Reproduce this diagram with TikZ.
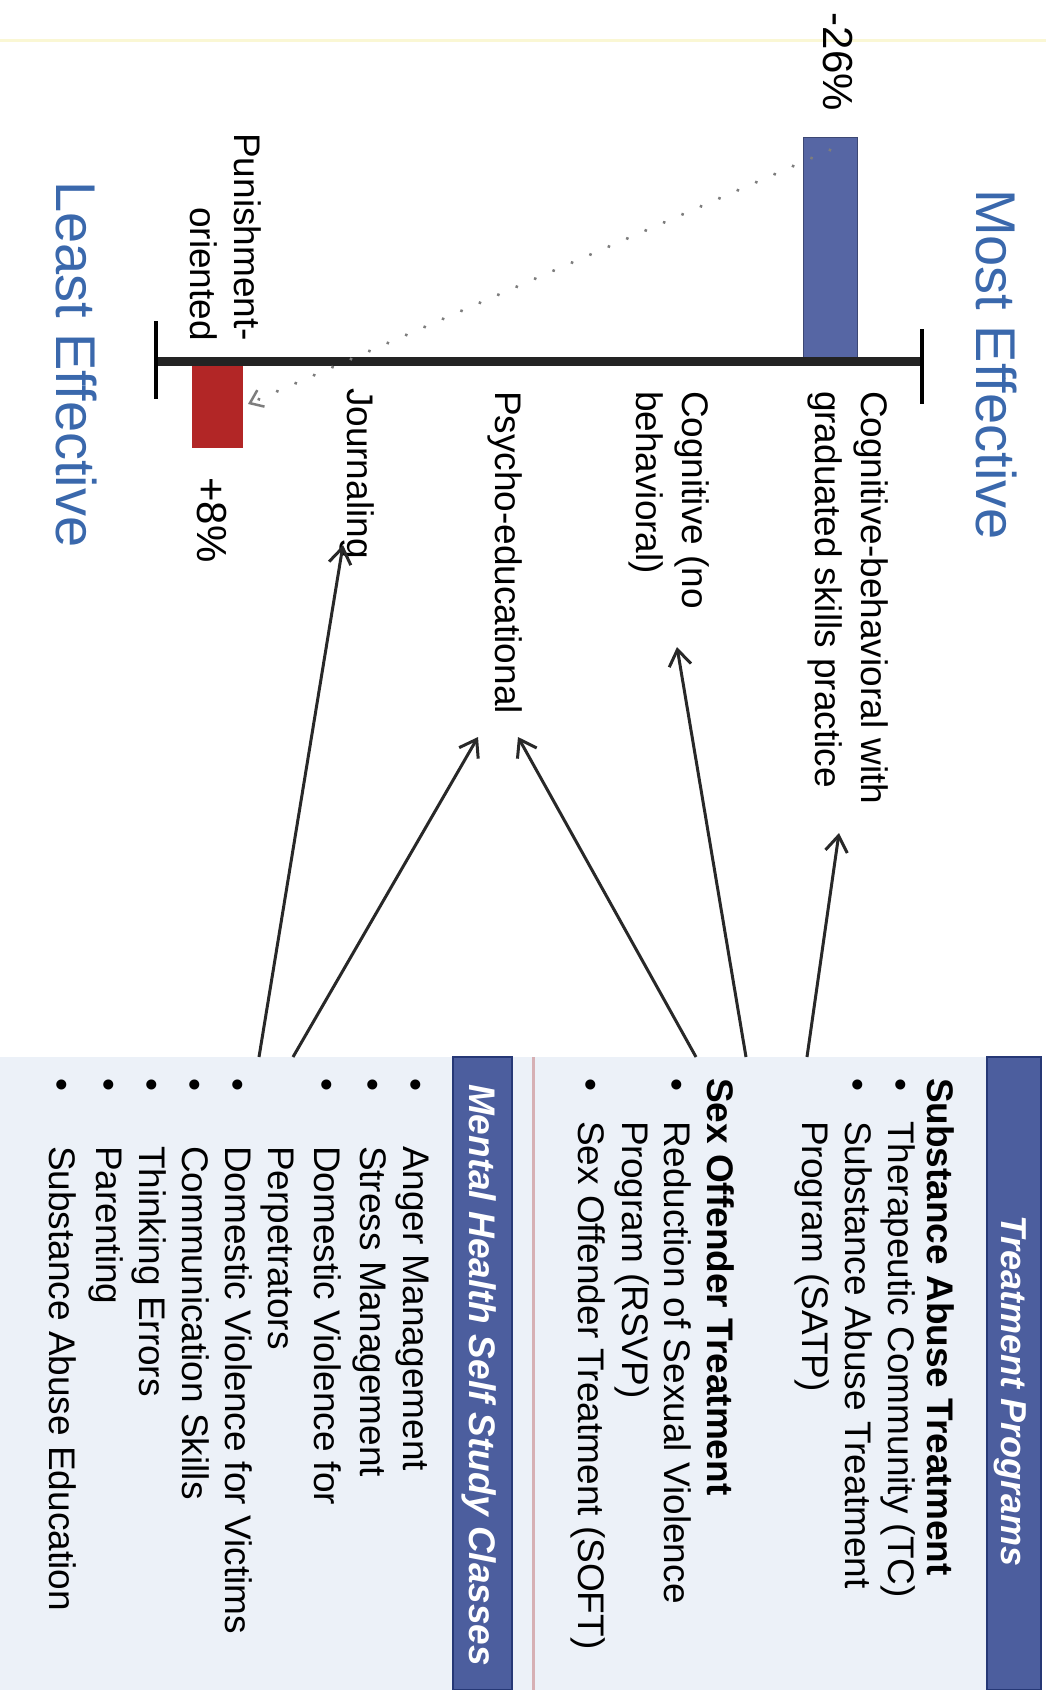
\documentclass[tikz,border=0pt]{standalone}
\usepackage{fontspec}
\setmainfont{Liberation Sans}
\usetikzlibrary{arrows.meta}
\definecolor{barblue}{RGB}{86,102,164}
\definecolor{barred}{RGB}{178,38,38}
\definecolor{titleblue}{RGB}{58,104,172}
\definecolor{bandblue}{RGB}{76,94,158}
\definecolor{bandedge}{RGB}{38,56,118}
\definecolor{boxbg}{RGB}{236,241,248}
\definecolor{pinkline}{RGB}{214,176,180}
\definecolor{arrowgray}{RGB}{40,40,40}
\definecolor{dotgray}{RGB}{125,125,125}
\definecolor{paleyellow}{RGB}{250,247,212}
\definecolor{axisgray}{RGB}{35,35,35}
\begin{document}
\begin{tikzpicture}[x=1pt,y=-1pt,
  rot/.style={rotate=-90, inner sep=0pt, outer sep=0pt},
  lbl/.style={rot, font=\fontsize{37}{46}\selectfont},
  item/.style={rot, font=\fontsize{37}{44}\selectfont, anchor=base west},
  head/.style={rot, font=\fontsize{37}{44}\selectfont\bfseries, anchor=base west},
  bandtext/.style={rot, font=\fontsize{36}{40}\selectfont\bfseries\itshape, text=white},
  bigtitle/.style={rot, font=\fontsize{56}{60}\selectfont, text=titleblue, anchor=base west},
  pct/.style={rot, font=\fontsize{42}{48}\selectfont, anchor=base},
  conn/.style={draw=arrowgray, line width=3pt, -{Straight Barb[length=16pt,width=22pt]}},
  dotconn/.style={draw=dotgray, line width=3.5pt, line cap=round, dash pattern=on 0.1pt off 20pt, -{Straight Barb[length=12pt,width=18pt,line width=2.5pt]}}
]
\useasboundingbox (0,0) rectangle (1046,1690);
\fill[white] (0,0) rectangle (1046,1690);
\draw[paleyellow, line width=3pt] (0,40) -- (1046,40);

% titles
\node[bigtitle] (most) at (976,189) {Most Effective};
\node[bigtitle] (least) at (56,181) {Least Effective};

% bars and axis
\fill[barblue, draw=barblue!70!black, line width=1pt] (803,137) rectangle (857,358);
\fill[barred] (192,366) rectangle (243,448);
\draw[axisgray, line width=9pt] (156,361) -- (922,361);
\draw[black, line width=4pt] (156,321) -- (156,399);
\draw[black, line width=4pt] (922,329) -- (922,404);

\node[pct] (p26) at (823,62) {-26\%};
\node[pct] (p8) at (197,520) {+8\%};

% axis labels
\node[lbl, align=left, anchor=north west] (cb) at (888,391) {Cognitive-behavioral with\\graduated skills practice};
\node[lbl, align=left, anchor=north west] (cog) at (709,391) {Cognitive (no\\behavioral)};
\node[lbl, anchor=north west] (psy) at (522,391) {Psycho-educational};
\node[lbl, anchor=north west] (jour) at (374,388) {Journaling};
\node[lbl, align=right, anchor=north east, font=\fontsize{37}{44}\selectfont] (pun) at (261,341) {Punishment-\\oriented};

% dotted trend arrow
\coordinate (dotS) at (830,150);
\coordinate (dotE) at (248,404);
\draw[dotconn] (dotS) -- (dotE);

% boxes
\fill[boxbg] (0,1057) rectangle (987,1690);
\draw[pinkline, line width=3pt] (533,1057) -- (533,1690);
\fill[bandblue, draw=bandedge, line width=2pt] (987,1057) rectangle (1041,1690);
\fill[bandblue, draw=bandedge, line width=2pt] (453,1057) rectangle (512,1690);

\node[bandtext, anchor=base] (tp) at (1001,1391) {Treatment Programs};
\node[bandtext, anchor=base west, font=\fontsize{37}{40}\selectfont\bfseries\itshape] (mh) at (469,1084) {Mental Health Self Study Classes};

% treatment programs content
\node[head] (h1) at (927,1078) {Substance Abuse Treatment};
\node[item] (b1) at (888,1078) {•};
\node[item] (t1) at (888,1121) {Therapeutic Community (TC)};
\node[item] (b2) at (845,1078) {•};
\node[item] (t2) at (845,1121) {Substance Abuse Treatment};
\node[item] (t2b) at (802,1121) {Program (SATP)};
\node[head] (h2) at (707,1078) {Sex Offender Treatment};
\node[item] (b3) at (664,1078) {•};
\node[item] (t3) at (664,1121) {Reduction of Sexual Violence};
\node[item] (t3b) at (622,1121) {Program (RSVP)};
\node[item] (b4) at (578,1078) {•};
\node[item] (t4) at (578,1121) {Sex Offender Treatment (SOFT)};

% mental health content
\node[item] (mb1) at (403,1078) {•};
\node[item] (m1) at (403,1146) {Anger Management};
\node[item] (mb2) at (360,1078) {•};
\node[item] (m2) at (360,1146) {Stress Management};
\node[item] (mb3) at (314,1078) {•};
\node[item] (m3) at (314,1146) {Domestic Violence for};
\node[item] (m3b) at (268,1146) {Perpetrators};
\node[item] (mb4) at (225,1078) {•};
\node[item] (m4) at (225,1146) {Domestic Violence for Victims};
\node[item] (mb5) at (182,1078) {•};
\node[item] (m5) at (182,1146) {Communication Skills};
\node[item] (mb6) at (139,1078) {•};
\node[item] (m6) at (139,1146) {Thinking Errors};
\node[item] (mb7) at (96,1078) {•};
\node[item] (m7) at (96,1146) {Parenting};
\node[item] (mb8) at (49,1078) {•};
\node[item] (m8) at (49,1146) {Substance Abuse Education};

% connectors
\coordinate (s1) at (807,1057);
\coordinate (s2) at (746,1057);
\coordinate (s3) at (696,1057);
\coordinate (s4) at (293,1057);
\coordinate (s5) at (259,1057);
\coordinate (e1) at (839,833);
\coordinate (e2) at (677,647);
\coordinate (e3) at (518,737);
\coordinate (e4) at (478,737);
\coordinate (e5) at (343,545);
\draw[conn] (s1) -- (e1);
\draw[conn] (s2) -- (e2);
\draw[conn] (s3) -- (e3);
\draw[conn] (s4) -- (e4);
\draw[conn] (s5) -- (e5);
\end{tikzpicture}
\end{document}
